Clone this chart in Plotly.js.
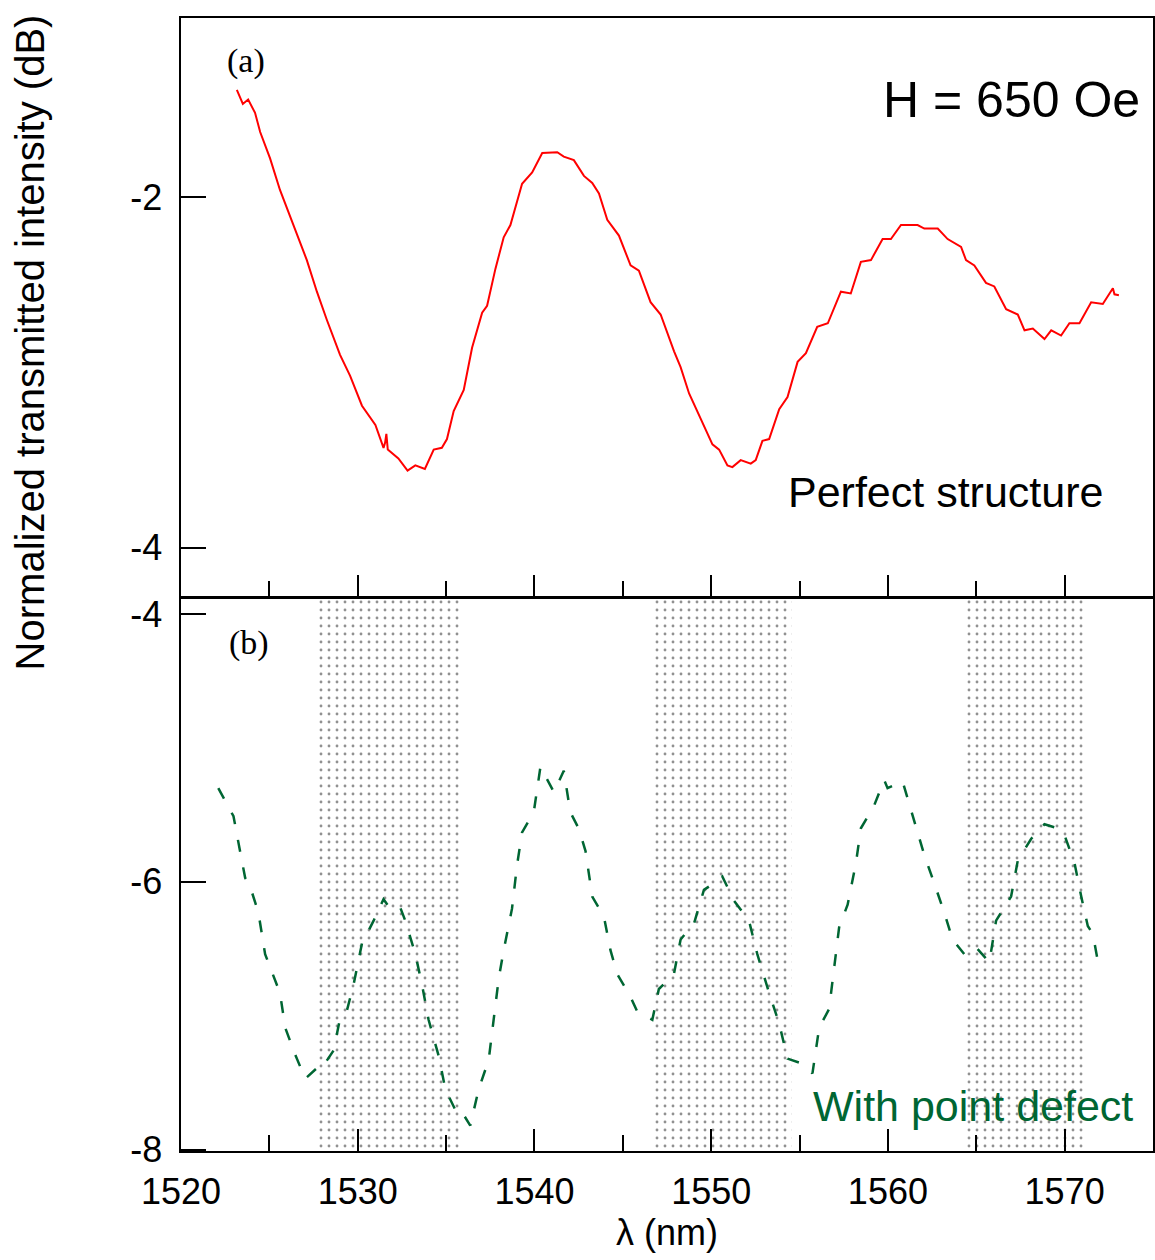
<!DOCTYPE html>
<html>
<head>
<meta charset="utf-8">
<script src="https://cdn.plot.ly/plotly-3.0.1.min.js"></script>
<style>html,body{margin:0;padding:0;background:#fff;}#chart{width:1155px;height:1260px;}</style>
</head>
<body>
<div id="chart"></div>
<script>
// ---- Data ----
// (a) Perfect structure, H = 650 Oe
const perfectWavelength = [1523.16,1523.5,1523.8,1524.19,1524.48,1525.04,1525.6,1526.36,1527.12,1527.69,1528.25,1529.0,1529.57,1530.24,1531.0,1531.46,1531.55,1531.62,1531.7,1532.3,1532.82,1533.26,1533.8,1534.3,1534.76,1535.05,1535.43,1536.0,1536.47,1537.04,1537.32,1537.79,1538.26,1538.64,1539.3,1539.87,1540.44,1541.29,1541.66,1542.23,1542.8,1543.27,1543.65,1544.12,1544.78,1545.44,1545.91,1546.57,1547.14,1547.9,1548.27,1548.75,1549.22,1549.6,1550.07,1550.45,1550.92,1551.2,1551.67,1552.24,1552.52,1552.9,1553.28,1553.85,1554.32,1554.89,1555.36,1556.0,1556.6,1557.34,1557.9,1558.47,1559.04,1559.7,1560.17,1560.74,1561.68,1562.06,1562.82,1563.38,1564.14,1564.42,1564.89,1565.55,1566.02,1566.69,1567.35,1567.73,1568.2,1568.86,1569.24,1569.8,1570.27,1570.84,1571.5,1572.16,1572.73,1572.82,1573.07];
const perfectIntensity = [-1.39,-1.47,-1.445,-1.52,-1.63,-1.78,-1.96,-2.16,-2.36,-2.54,-2.70,-2.90,-3.02,-3.19,-3.30,-3.43,-3.40,-3.35,-3.44,-3.49,-3.56,-3.53,-3.55,-3.44,-3.43,-3.38,-3.22,-3.10,-2.86,-2.66,-2.62,-2.41,-2.23,-2.16,-1.925,-1.86,-1.75,-1.745,-1.77,-1.79,-1.88,-1.92,-1.98,-2.13,-2.22,-2.39,-2.42,-2.60,-2.67,-2.88,-2.97,-3.12,-3.22,-3.31,-3.41,-3.44,-3.53,-3.54,-3.50,-3.52,-3.50,-3.39,-3.38,-3.21,-3.14,-2.94,-2.89,-2.74,-2.72,-2.54,-2.55,-2.37,-2.36,-2.24,-2.24,-2.16,-2.16,-2.18,-2.18,-2.24,-2.285,-2.36,-2.39,-2.49,-2.51,-2.64,-2.67,-2.76,-2.75,-2.81,-2.76,-2.79,-2.72,-2.72,-2.60,-2.61,-2.52,-2.555,-2.56];

// (b) With point defect
const defectWavelength = [1522.11,1522.97,1523.34,1523.63,1523.9,1524.38,1524.76,1525.33,1525.6,1525.9,1526.46,1527.03,1527.78,1527.97,1528.63,1529.0,1529.39,1529.76,1530.24,1530.9,1531.46,1531.84,1532.4,1532.69,1533.26,1533.64,1534.01,1534.58,1534.96,1535.62,1535.9,1536.37,1536.84,1537.41,1537.69,1537.98,1538.26,1538.73,1539.01,1539.3,1539.96,1540.34,1541.1,1541.66,1542.03,1542.5,1542.89,1543.27,1543.93,1544.3,1544.69,1545.44,1545.82,1546.67,1547.04,1547.89,1548.27,1549.03,1549.59,1550.16,1550.63,1551.29,1552.14,1552.61,1553.28,1553.85,1554.32,1554.98,1555.73,1556.11,1556.67,1556.96,1557.24,1557.72,1558.19,1558.47,1559.22,1559.79,1559.98,1560.83,1561.49,1562.06,1562.62,1563.19,1563.66,1564.32,1564.99,1565.74,1566.12,1566.97,1567.35,1568.1,1568.86,1569.62,1569.99,1570.56,1570.94,1571.31,1571.6,1571.97];
const defectIntensity = [-5.30,-5.51,-5.77,-5.97,-6.03,-6.23,-6.54,-6.74,-6.83,-7.09,-7.29,-7.47,-7.38,-7.39,-7.26,-7.02,-6.96,-6.77,-6.46,-6.29,-6.13,-6.20,-6.19,-6.29,-6.54,-6.77,-7.03,-7.30,-7.55,-7.73,-7.72,-7.82,-7.55,-7.33,-7.02,-6.72,-6.51,-6.20,-5.88,-5.63,-5.48,-5.14,-5.33,-5.17,-5.48,-5.60,-5.77,-6.11,-6.26,-6.51,-6.69,-6.86,-6.97,-7.03,-6.80,-6.69,-6.43,-6.31,-6.06,-6.01,-5.96,-6.14,-6.29,-6.54,-6.83,-7.06,-7.32,-7.35,-7.43,-7.09,-6.95,-6.66,-6.34,-6.17,-5.86,-5.60,-5.43,-5.24,-5.30,-5.25,-5.55,-5.80,-6.01,-6.23,-6.43,-6.54,-6.49,-6.60,-6.29,-6.11,-5.84,-5.68,-5.57,-5.60,-5.65,-5.86,-6.11,-6.33,-6.39,-6.66];

// Shaded (dotted) wavelength bands in panel (b)
const bandStart = [1527.75, 1546.8, 1564.45];
const bandEnd   = [1535.85, 1554.55, 1571.1];

// Axis ranges and tick labels
const xRange = [1520, 1575];
const topRange = [-4.28, -0.98];
const bottomRange = [-8.01, -3.88];
const xTickVals = [1520, 1530, 1540, 1550, 1560, 1570];
const xTickText = ['1520', '1530', '1540', '1550', '1560', '1570'];
const xMinorTickVals = [1525, 1535, 1545, 1555, 1565, 1575];
const topTickVals = [-4, -2];
const topTickText = ['-4', '-2'];
const bottomTickVals = [-8, -6, -4];
const bottomTickText = ['-8', '-6', '-4'];

// ---- Traces ----
const traces = [];
for (let i = 0; i < bandStart.length; i++) {
  traces.push({
    type: 'scatter', mode: 'lines', xaxis: 'x2', yaxis: 'y2',
    x: [bandStart[i], bandStart[i], bandEnd[i], bandEnd[i], bandStart[i]],
    y: [bottomRange[0], bottomRange[1], bottomRange[1], bottomRange[0], bottomRange[0]],
    fill: 'toself', fillcolor: 'rgba(0,0,0,0)',
    fillpattern: {shape: '.', size: 8, solidity: 0.1, fgcolor: '#222222', bgcolor: 'rgba(255,255,255,0)', fillmode: 'overlay'},
    line: {width: 0}, hoverinfo: 'skip', showlegend: false
  });
}
traces.push({
  type: 'scatter', mode: 'lines', xaxis: 'x2', yaxis: 'y2',
  x: defectWavelength, y: defectIntensity,
  line: {color: '#006633', width: 2.5, dash: '12px,16px'},
  showlegend: false, hoverinfo: 'skip'
});
traces.push({
  type: 'scatter', mode: 'lines', xaxis: 'x', yaxis: 'y',
  x: perfectWavelength, y: perfectIntensity,
  line: {color: '#ff0000', width: 2},
  showlegend: false, hoverinfo: 'skip'
});

const tickFont = {family: 'Liberation Sans, Arial, sans-serif', size: 36, color: '#000'};
const xCommon = {
  range: xRange, showline: true, linecolor: '#000', linewidth: 2, mirror: true,
  ticks: 'inside', ticklen: 22, tickwidth: 2, tickcolor: '#000',
  tickvals: xTickVals, ticktext: xTickText,
  minor: {tickvals: xMinorTickVals, ticks: 'inside', ticklen: 16, tickwidth: 2, tickcolor: '#000', showgrid: false},
  showgrid: false, zeroline: false, tickfont: tickFont, fixedrange: true
};
const yCommon = {
  showline: true, linecolor: '#000', linewidth: 2.5, mirror: true,
  ticks: 'inside', ticklen: 25, tickwidth: 2, tickcolor: '#000',
  showgrid: false, zeroline: false, tickfont: tickFont, ticklabelstandoff: 9, fixedrange: true
};

const layout = {
  width: 1155, height: 1260,
  margin: {l: 181, r: 2, t: 18, b: 109},
  paper_bgcolor: '#ffffff', plot_bgcolor: '#ffffff',
  showlegend: false,
  font: {family: 'Liberation Sans, Arial, sans-serif', color: '#000'},
  xaxis: Object.assign({}, xCommon, {anchor: 'y', domain: [0, 1], showticklabels: false}),
  yaxis: Object.assign({}, yCommon, {anchor: 'x', domain: [0.489, 1], range: topRange, tickvals: topTickVals, ticktext: topTickText}),
  xaxis2: Object.assign({}, xCommon, {anchor: 'y2', domain: [0, 1], showticklabels: true, ticklabelstandoff: 8,
    title: {text: 'λ (nm)', font: {family: 'Liberation Sans, Arial, sans-serif', size: 36, color: '#000'}, standoff: 6}}),
  yaxis2: Object.assign({}, yCommon, {anchor: 'x2', domain: [0, 0.4881], range: bottomRange, tickvals: bottomTickVals, ticktext: bottomTickText}),
  annotations: [
    {text: 'Normalized transmitted intensity (dB)', xref: 'paper', yref: 'paper', x: -0.155, y: 0.714,
     xanchor: 'center', yanchor: 'middle', textangle: -90, showarrow: false,
     font: {family: 'Liberation Sans, Arial, sans-serif', size: 40, color: '#000'}},
    {text: '(a)', xref: 'paper', yref: 'paper', x: 0.067, y: 0.962, xanchor: 'center', yanchor: 'middle', showarrow: false,
     font: {family: 'Liberation Serif, Times New Roman, serif', size: 34, color: '#000'}},
    {text: '(b)', xref: 'paper', yref: 'paper', x: 0.070, y: 0.4486, xanchor: 'center', yanchor: 'middle', showarrow: false,
     font: {family: 'Liberation Serif, Times New Roman, serif', size: 34, color: '#000'}},
    {text: 'H = 650 Oe', xref: 'paper', yref: 'paper', x: 0.9886, y: 0.9276, xanchor: 'right', yanchor: 'middle', showarrow: false,
     font: {family: 'Liberation Sans, Arial, sans-serif', size: 50, color: '#000'}},
    {text: 'Perfect structure', xref: 'paper', yref: 'paper', x: 0.9506, y: 0.5816, xanchor: 'right', yanchor: 'middle', showarrow: false,
     font: {family: 'Liberation Sans, Arial, sans-serif', size: 43, color: '#000'}},
    {text: 'With point defect', xref: 'paper', yref: 'paper', x: 0.9814, y: 0.0397, xanchor: 'right', yanchor: 'middle', showarrow: false,
     font: {family: 'Liberation Sans, Arial, sans-serif', size: 43, color: '#006633'}}
  ]
};

Plotly.newPlot('chart', traces, layout, {displayModeBar: false, staticPlot: true});
</script>
</body>
</html>
